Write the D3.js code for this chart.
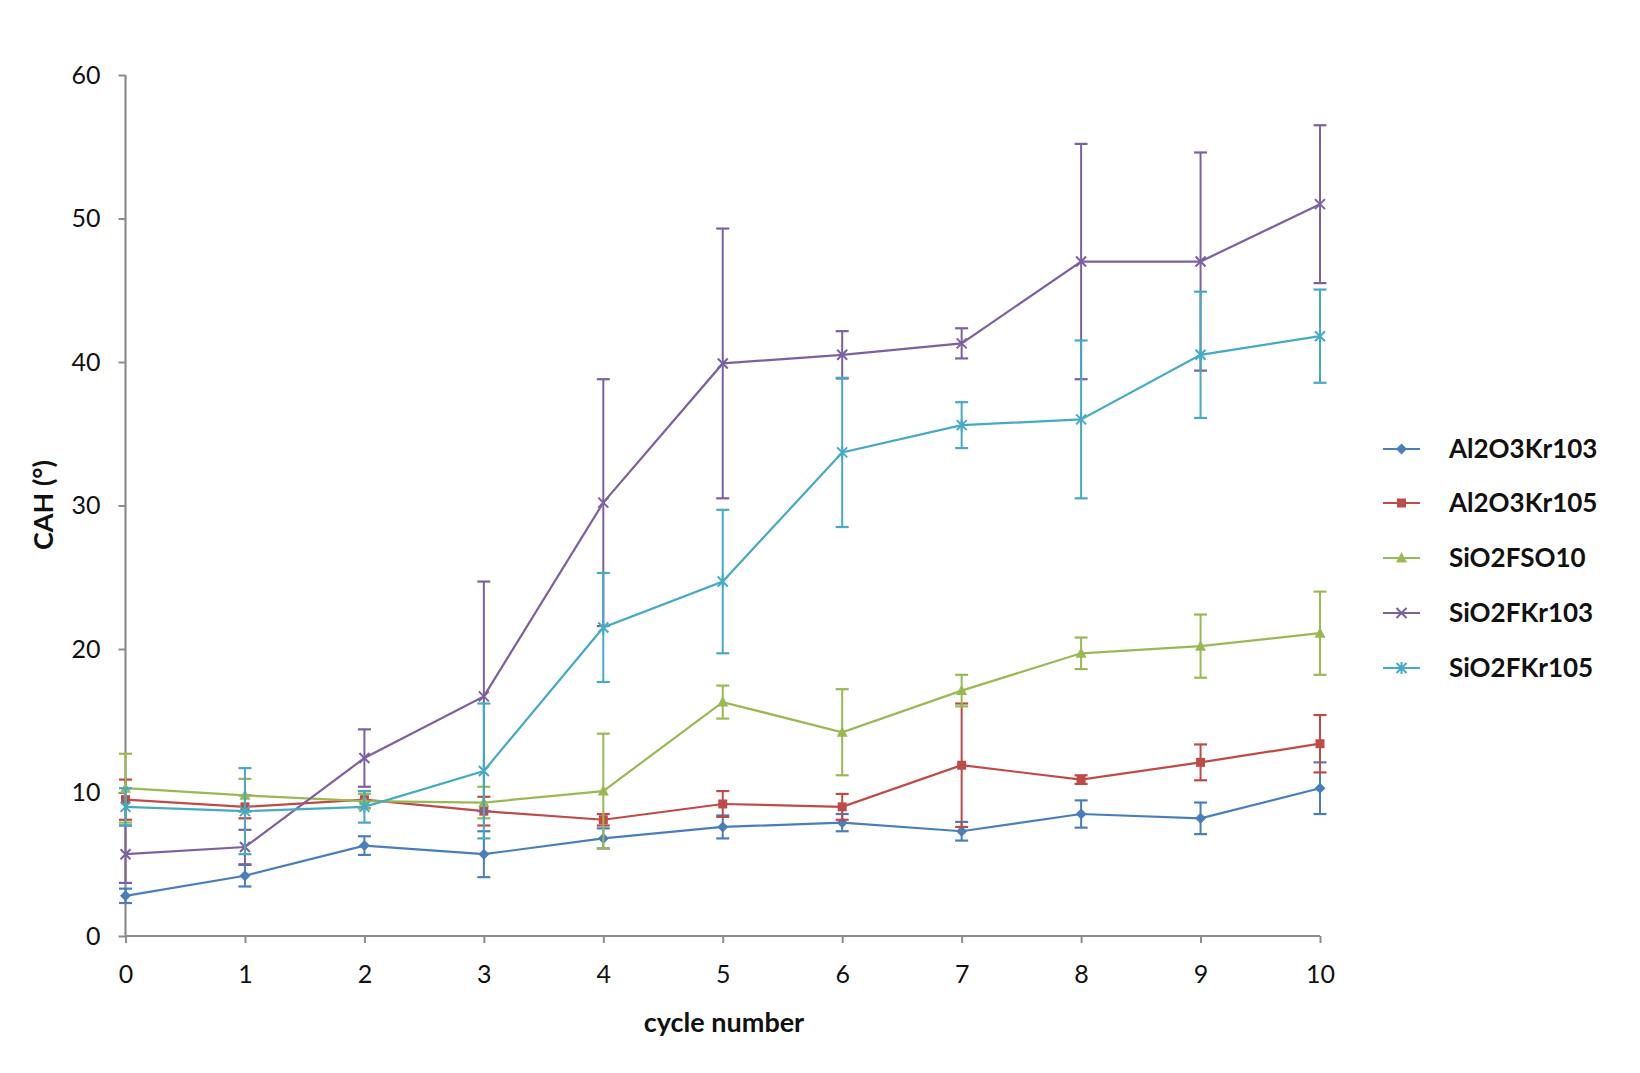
<!DOCTYPE html>
<html><head><meta charset="utf-8">
<script src="https://cdn.jsdelivr.net/npm/d3@7"></script>
<style>body{margin:0;background:#fff}svg{display:block}</style>
</head><body>
<svg id="chart" width="1640" height="1073"></svg>
<script>
const cycles = [0,1,2,3,4,5,6,7,8,9,10];
const seriesNames = ["Al2O3Kr103","Al2O3Kr105","SiO2FSO10","SiO2FKr103","SiO2FKr105"];
const seriesColors = ["#4a7ebb","#be4b48","#98b954","#7d60a0","#46aac5"];
const seriesMarkers = ["diamond","square","triangle","x","star"];
const al103 = [2.8,4.2,6.3,5.7,6.8,7.6,7.9,7.3,8.5,8.2,10.3];
const al103Err = [0.5,0.75,0.65,1.6,0.7,0.8,0.6,0.65,0.95,1.1,1.8];
const al105 = [9.5,9.0,9.5,8.7,8.1,9.2,9.0,11.9,10.9,12.1,13.4];
const al105Err = [1.4,0.8,0.6,1.0,0.4,0.9,0.9,4.3,0.3,1.25,2.0];
const fso10 = [10.3,9.8,9.4,9.3,10.1,16.3,14.2,17.1,19.7,20.2,21.1];
const fso10Err = [2.4,1.15,0.5,1.1,4.0,1.15,3.0,1.1,1.1,2.2,2.9];
const fkr103 = [5.7,6.2,12.4,16.7,30.2,39.9,40.5,41.3,47.0,47.0,51.0];
const fkr103Err = [2.0,1.2,2.0,8.0,8.6,9.4,1.65,1.05,8.2,7.6,5.5];
const fkr105 = [9.0,8.7,9.0,11.5,21.5,24.7,33.7,35.6,36.0,40.5,41.8];
const fkr105Err = [1.3,3.0,1.1,4.7,3.8,5.0,5.2,1.6,5.5,4.4,3.25];
const yTicks = [0,10,20,30,40,50,60];
const xLabel = "cycle number";
const yLabel = "CAH (°)";

const values = [al103, al105, fso10, fkr103, fkr105];
const errs = [al103Err, al105Err, fso10Err, fkr103Err, fkr105Err];

const svg = d3.select("#chart");
const x = d3.scaleLinear().domain([0,10]).range([125.5,1320]);
const y = d3.scaleLinear().domain([0,60]).range([936,75]);
const font = "Lato, 'Open Sans', sans-serif";
const axisColor = "#8c8c8c";

// axes
const xAxis = svg.append("g").attr("transform",`translate(0,${y(0)})`)
  .call(d3.axisBottom(x).tickValues(cycles).tickSize(7).tickPadding(22).tickFormat(d3.format("d")));
const yAxis = svg.append("g").attr("transform",`translate(${x(0)},0)`)
  .call(d3.axisLeft(y).tickValues(yTicks).tickSize(7).tickPadding(18).tickFormat(d3.format("d")));
[xAxis,yAxis].forEach(g=>{
  g.select(".domain").attr("stroke",axisColor).attr("stroke-width",2.2);
  g.selectAll(".tick line").attr("stroke",axisColor).attr("stroke-width",2);
  g.selectAll(".tick text").attr("fill","#111").attr("font-family",font).attr("font-size",25);
});
xAxis.select(".domain").attr("d",`M${x(0)},0H${x(10)}`);
yAxis.select(".domain").attr("d",`M0,${y(60)}V${y(0)}`);

svg.append("text").attr("x",724).attr("y",1032).attr("text-anchor","middle")
  .attr("font-family",font).attr("font-weight","bold").attr("font-size",27).attr("fill","#111").text(xLabel);
svg.append("text").attr("transform","translate(53,505) rotate(-90)").attr("text-anchor","middle")
  .attr("font-family",font).attr("font-weight","bold").attr("font-size",27).attr("fill","#111").text(yLabel);

function marker(g, type, color, cx, cy){
  if(type==="diamond"){
    g.append("path").attr("d",`M${cx},${cy-5.5}L${cx+5.5},${cy}L${cx},${cy+5.5}L${cx-5.5},${cy}Z`).attr("fill",color);
  } else if(type==="square"){
    g.append("rect").attr("x",cx-4.5).attr("y",cy-4.5).attr("width",9).attr("height",9).attr("fill",color);
  } else if(type==="triangle"){
    g.append("path").attr("d",`M${cx},${cy-6}L${cx+5.5},${cy+4.5}L${cx-5.5},${cy+4.5}Z`).attr("fill",color);
  } else if(type==="x"){
    g.append("path").attr("d",`M${cx-5},${cy-5}L${cx+5},${cy+5}M${cx-5},${cy+5}L${cx+5},${cy-5}`).attr("stroke",color).attr("stroke-width",2).attr("fill","none");
  } else {
    g.append("path").attr("d",`M${cx-5},${cy-5}L${cx+5},${cy+5}M${cx-5},${cy+5}L${cx+5},${cy-5}M${cx},${cy-6}V${cy+6}`).attr("stroke",color).attr("stroke-width",2).attr("fill","none");
  }
}

const line = d3.line().x((d,i)=>x(cycles[i])).y(d=>y(d));
values.forEach((vals,s)=>{
  const c = seriesColors[s];
  const g = svg.append("g");
  vals.forEach((v,i)=>{
    const e = errs[s][i], cx = x(cycles[i]);
    g.append("line").attr("x1",cx).attr("x2",cx).attr("y1",y(v+e)).attr("y2",y(v-e)).attr("stroke",c).attr("stroke-width",2);
    [v+e, v-e].forEach(t=>g.append("line").attr("x1",cx-6.5).attr("x2",cx+6.5).attr("y1",y(t)).attr("y2",y(t)).attr("stroke",c).attr("stroke-width",2.2));
  });
  g.append("path").attr("d",line(vals)).attr("fill","none").attr("stroke",c).attr("stroke-width",2.2);
  vals.forEach((v,i)=>marker(g, seriesMarkers[s], c, x(cycles[i]), y(v)));
});

// legend
const legY = [449,503,558,613,668];
seriesNames.forEach((n,s)=>{
  const g = svg.append("g");
  const c = seriesColors[s];
  g.append("line").attr("x1",1383).attr("x2",1420).attr("y1",legY[s]).attr("y2",legY[s]).attr("stroke",c).attr("stroke-width",2.2);
  marker(g, seriesMarkers[s], c, 1401.5, legY[s]);
  g.append("text").attr("x",1449).attr("y",legY[s]).attr("dy","0.35em")
    .attr("font-family",font).attr("font-weight","bold").attr("font-size",26).attr("fill","#111").text(n);
});
</script>
</body></html>
